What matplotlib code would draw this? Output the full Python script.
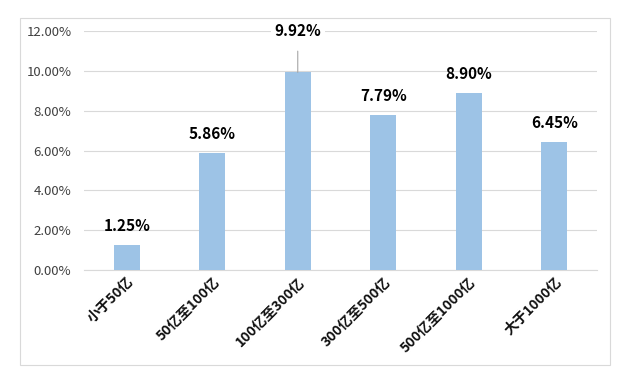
import matplotlib as mpl
import matplotlib.pyplot as plt
from matplotlib.patches import Rectangle
from matplotlib.ticker import PercentFormatter

mpl.use('Agg')
plt.rcParams['font.family'] = ['Noto Sans CJK SC', 'DejaVu Sans']

categories = ['小于50亿', '50亿至100亿', '100亿至300亿', '300亿至500亿', '500亿至1000亿', '大于1000亿']
values = [1.25, 5.86, 9.92, 7.79, 8.90, 6.45]
labels = ['1.25%', '5.86%', '9.92%', '7.79%', '8.90%', '6.45%']

fig = plt.figure(figsize=(6.4, 3.8), dpi=100)
# outer chart frame
fig.patches.append(Rectangle((20 / 640, 15 / 380), 590 / 640, 347 / 380, transform=fig.transFigure,
                             fill=False, edgecolor='#d9d9d9', linewidth=0.8))
ax = fig.add_axes([84 / 640, 110 / 380, 513 / 640, 239 / 380])

x = range(len(categories))
ax.bar(x, values, width=0.3, color='#9dc3e6', zorder=3)
ax.set_xlim(-0.5, len(categories) - 0.5)
ax.set_ylim(0, 12)
ax.set_yticks([0, 2, 4, 6, 8, 10, 12])
ax.yaxis.set_major_formatter(PercentFormatter(decimals=2))
ax.grid(axis='y', color='#d9d9d9', linewidth=0.8, zorder=0)
for s in ['top', 'right', 'left']:
    ax.spines[s].set_visible(False)
ax.spines['bottom'].set_color('#d9d9d9')
ax.tick_params(axis='both', length=0, colors='#404040')
ax.tick_params(axis='y', pad=9, labelsize=9.5)
ax.set_xticks(list(x))
ax.set_xticklabels(categories, rotation=45, ha='right', rotation_mode='anchor',
                   fontsize=10, fontweight='bold', color='#111111')

for i, (v, t) in enumerate(zip(values, labels)):
    if v > 9.5:
        ax.annotate(t, xy=(i, v), xytext=(i, 12.0), ha='center', va='center',
                    fontsize=11, fontweight='bold', zorder=5,
                    bbox=dict(boxstyle='square,pad=0.25', fc='white', ec='none'),
                    arrowprops=dict(arrowstyle='-', color='#a6a6a6', lw=0.8, shrinkA=6, shrinkB=0))
    else:
        ax.text(i, v + 0.55, t, ha='center', va='bottom', fontsize=11, fontweight='bold')

plt.savefig('out.png', dpi=100)
